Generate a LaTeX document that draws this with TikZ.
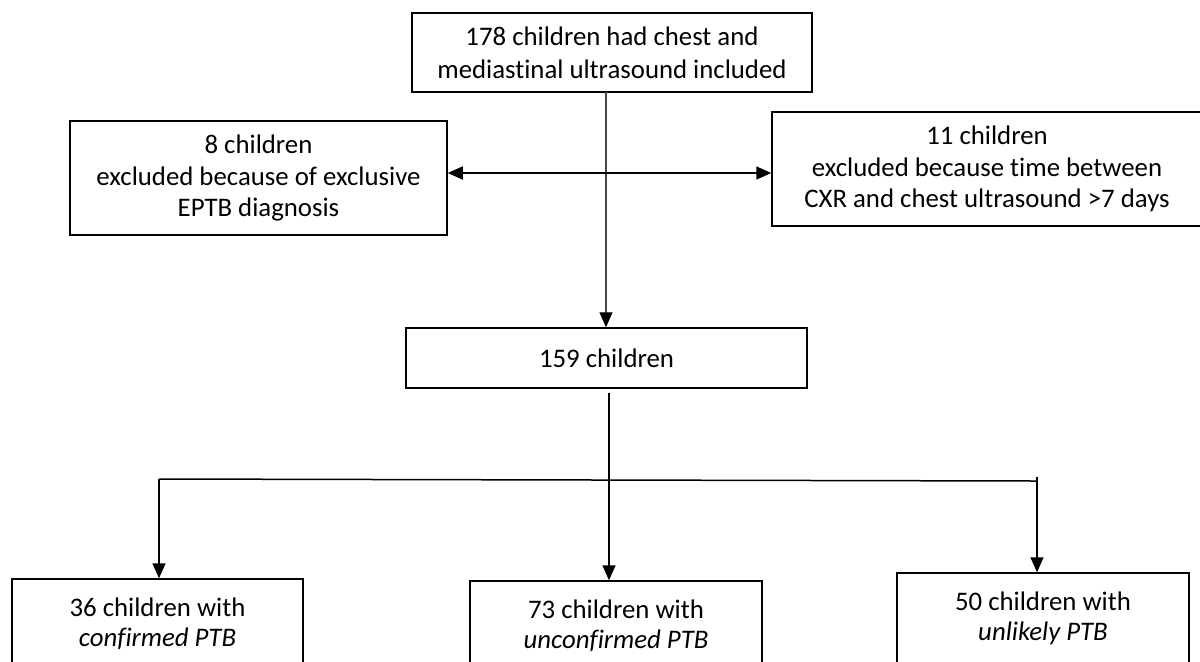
\documentclass[tikz,border=0pt]{standalone}
\usepackage{fontspec}
\setmainfont{Carlito}[Ligatures=NoCommon]
\usetikzlibrary{arrows.meta,calc}
\begin{document}
\begin{tikzpicture}[x=0.5pt,y=-0.5pt,
  box/.style={draw=black, line width=0.75pt, align=center, inner sep=0pt, fill=white},
  fA/.style={font=\fontsize{13.4}{16.5}\selectfont},
  fB/.style={font=\fontsize{13.4}{15.75}\selectfont},
  fC/.style={font=\fontsize{13.4}{15}\selectfont},
  conn/.style={line width=0.75pt, draw=black},
  trunk/.style={line width=1pt, draw=black!72},
  arr/.style={conn, -{Triangle[length=7.5pt,width=6.5pt]}},
  tarr/.style={trunk, -{Triangle[length=7.5pt,width=6.5pt,color=black,line width=0.5pt]}},
  ]
\useasboundingbox (0,0) rectangle (1200,661);
\clip (0,0) rectangle (1200,661);

\node[box, fA, minimum width=200pt, minimum height=39.5pt] (top) at (612,52.5)
  {178 children had chest and\\mediastinal ultrasound included};
\node[box, fB, minimum width=188.5pt, minimum height=57pt] (left) at (258.5,178)
  {8 children\\excluded because of exclusive\\EPTB diagnosis};
\node[box, fB, minimum width=215pt, minimum height=57pt] (right) at (987,169)
  {11 children\\excluded because time between\\CXR and chest ultrasound >7 days};
\node[box, fA, minimum width=200.5pt, minimum height=30pt] (mid) at (606.5,358)
  {159 children};
\node[box, fC, minimum width=145.5pt, minimum height=45pt] (b1) at (157.5,624)
  {36 children with\\\textit{confirmed PTB}};
\node[box, fC, minimum width=146pt, minimum height=45pt] (b2) at (616,626)
  {73 children with\\\textit{unconfirmed PTB}};
\node[box, fC, minimum width=146pt, minimum height=45pt] (b3) at (1043,618)
  {50 children with\\\textit{unlikely PTB}};

% trunk from top box to 159 children
\coordinate (tstart) at (606,92);
\coordinate (split) at (606,173);
\draw[tarr] (tstart) -- (tstart |- mid.north);
\draw[arr] (split) -- (split -| left.east);
\draw[arr] (split) -- (split -| right.west);

% branches to the three groups
\coordinate (mstart) at (609,393);
\coordinate (brL) at (159,479);
\coordinate (brR) at (1037,481);
\coordinate (brRtop) at (1037,477);
\draw[conn] (brL) -- (brR);
\draw[arr] (mstart) -- (mstart |- b2.north);
\draw[arr] (brL) -- (brL |- b1.north);
\draw[arr] (brRtop) -- (brRtop |- b3.north);
\end{tikzpicture}
\end{document}
